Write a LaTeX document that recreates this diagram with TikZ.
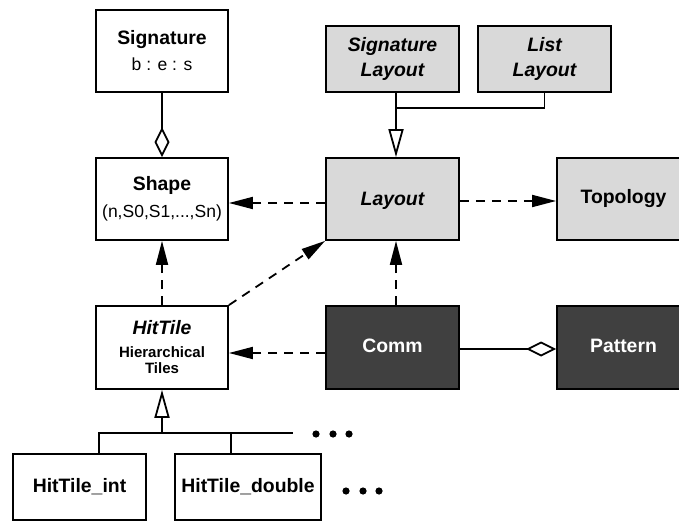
\documentclass[tikz,border=0pt]{standalone}
\usepackage{fontspec}
\setmainfont{Liberation Sans}
\usetikzlibrary{arrows.meta}
\definecolor{lightbox}{HTML}{D9D9D9}
\definecolor{darkbox}{HTML}{404040}
\begin{document}
\begin{tikzpicture}[x=1pt,y=-1pt,
  box/.style={draw, line width=1.8pt, inner sep=0pt, align=center,
    minimum width=132pt, minimum height=82pt,
    font=\fontsize{19.4}{25}\selectfont\bfseries},
  lightb/.style={box, fill=lightbox},
  darkb/.style={box, fill=darkbox, text=white},
  conn/.style={line width=1.8pt},
  dep/.style={conn, dash pattern=on 9pt off 7pt, -{Triangle[length=24pt,width=12pt]}},
  agg/.style={conn, -{Diamond[open,length=30pt,width=15pt]}},
  inh/.style={conn, -{Triangle[open,length=28pt,width=15pt]}}
]
\useasboundingbox (0,0) rectangle (679,521);
\clip (0,0) rectangle (679,521);

\node[box] (sig) at (162,51) {Signature\\[1pt]{\fontsize{17.5}{25}\selectfont\mdseries b : e : s}};
\node[box] (shape) at (162,199) {Shape\\[2pt]{\fontsize{17.5}{25}\selectfont\mdseries (n,S0,S1,...,Sn)}};
\node[lightb, minimum width=133pt, minimum height=66pt] (siglay) at (392.5,59) {\itshape Signature\\\itshape Layout};
\node[lightb, minimum width=133pt, minimum height=66pt] (listlay) at (544.5,59) {\itshape List\\\itshape Layout};
\node[lightb, minimum width=133pt, text depth=1pt] (layout) at (392.5,199) {\itshape Layout};
\node[lightb, minimum width=133pt] (topo) at (623.5,199) {\raisebox{3pt}{Topology}};
\node[box, minimum height=83pt, font=\fontsize{15}{16}\selectfont\bfseries] (hittile) at (162,347.5)
  {{\fontsize{19.4}{23}\selectfont\itshape HitTile}\\[7pt]Hierarchical\\Tiles};
\node[darkb, minimum width=133pt, minimum height=83pt] (comm) at (392.5,347.5) {\raisebox{3pt}{Comm}};
\node[darkb, minimum width=133pt, minimum height=83pt] (pattern) at (623.5,347.5) {\raisebox{3pt}{Pattern}};
\node[box, minimum width=133pt, minimum height=66pt] (hitint) at (79.5,487) {HitTile\_int};
\node[box, minimum width=146pt, minimum height=66pt] (hitdouble) at (248,487) {HitTile\_double};

% aggregation
\draw[agg] (sig.south) -- (shape.north);
\draw[agg] ([yshift=-1.5pt]comm.east) -- ([yshift=-1.5pt]pattern.west);

% inheritance of layouts
\coordinate (j1) at ([xshift=3.5pt]siglay.south |- 0,108);
\draw[conn] (listlay.south) |- (j1);
\draw[inh] ([xshift=3.5pt]siglay.south) -- ([xshift=3.5pt]layout.north);

% dependencies
\draw[dep] ([yshift=-4pt]layout.west) -- ([yshift=-4pt]shape.east);
\draw[dep] ([yshift=-2pt]layout.east) -- ([yshift=-2pt]topo.west);
\draw[dep] (hittile.north) -- (shape.south);
\draw[dep] ([xshift=3.5pt]comm.north) -- ([xshift=3.5pt]layout.south);
\draw[dep] (hittile.north east) -- (layout.south west);
\draw[dep] ([yshift=-5.5pt]comm.west) -- ([yshift=-5.5pt]hittile.east);

% inheritance of tiles
\coordinate (j2) at (hittile.south |- 0,433);
\coordinate (hend) at (293,433);
\draw[inh] (j2) -- (hittile.south);
\draw[conn] ([xshift=19.5pt]hitint.north) |- (hend);
\draw[conn] ([xshift=-17pt]hitdouble.north) -- ([xshift=-17pt]hitdouble.north |- hend);

% continuation dots
\foreach \x in {316,333,349} \fill (\x,434) circle (3.6pt);
\foreach \x in {346,363,379} \fill (\x,491) circle (3.6pt);
\end{tikzpicture}
\end{document}
